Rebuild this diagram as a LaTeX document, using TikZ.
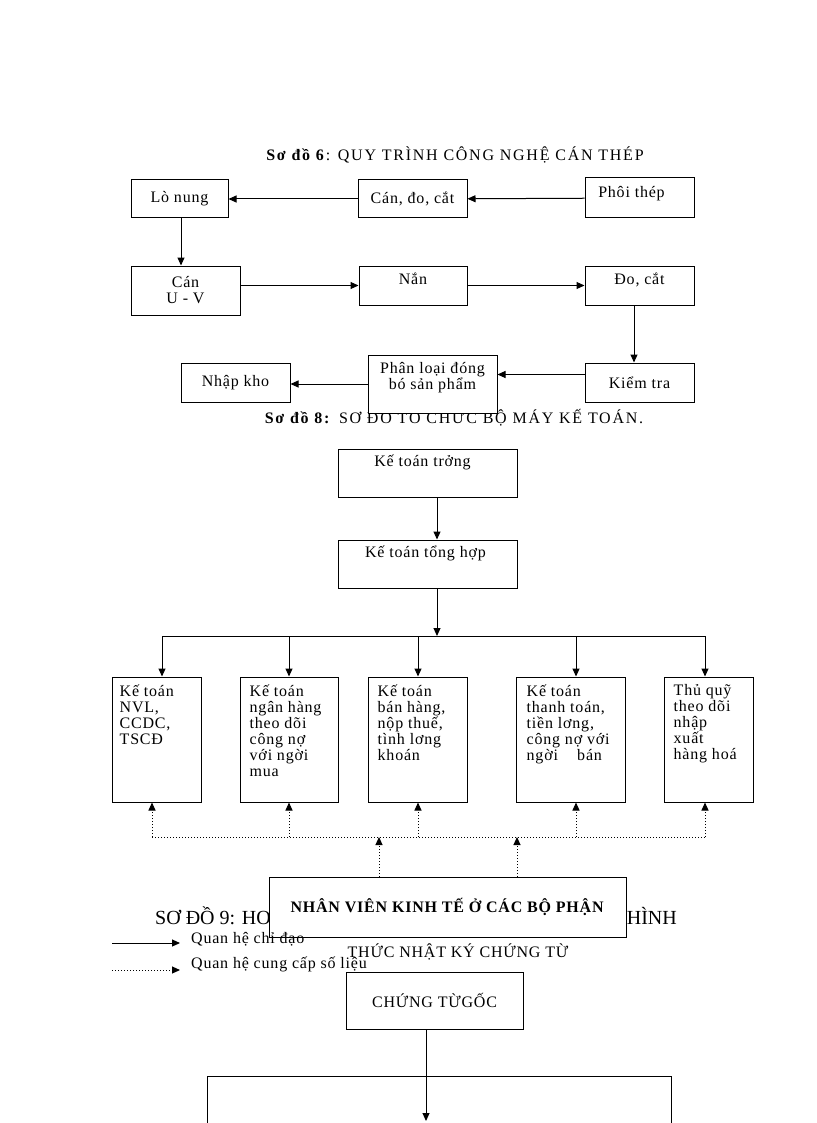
\documentclass[tikz,border=0pt]{standalone}
\usepackage{fontspec}
\setmainfont[LetterSpace=5]{Liberation Serif}
\newfontfamily\plainserif{Liberation Serif}
\newfontfamily\wideserif[LetterSpace=11]{Liberation Serif}
\usetikzlibrary{arrows.meta}
\newcommand\boxfont{\fontsize{16}{16}\selectfont}
\newcommand\titlefont{\wideserif\fontsize{16}{17}\selectfont}
\newcommand\bigtitlefont{\plainserif\fontsize{20}{22}\selectfont}
\tikzset{
  box/.style={draw, line width=1pt, inner sep=2pt, fill=white, align=center},
  arr/.style={line width=1pt, -{Triangle[length=8pt,width=7pt]}},
  dotarr/.style={arr, dotted},
  intext/.style={anchor=north west, align=left, inner sep=0pt, font=\boxfont},
  toptext/.style={anchor=north, align=center, inner sep=0pt, font=\boxfont},
}
\begin{document}
\begin{tikzpicture}[x=1pt, y=-1pt, font=\boxfont]
\useasboundingbox (0,0) rectangle (816,1123);

% so do 6
\node[font=\titlefont] (title6) at (455,155) {\textbf{Sơ đồ 6}: QUY TRÌNH CÔNG NGHỆ CÁN THÉP};
\node[box, minimum width=97pt, minimum height=38pt] (lonung) at (179.5,199) {Lò nung};
\node[box, minimum width=109pt, minimum height=38pt] (cando) at (412.5,199) {Cán, đo, cắt};
\node[box, minimum width=109pt, minimum height=40pt,
  label={[toptext, yshift=-9pt, xshift=-8pt]north:Phôi thép}] (phoi) at (639.5,198) {};
\node[box, minimum width=109pt, minimum height=49pt] (canuv) at (185.5,290.5) {Cán\\U - V};
\node[box, minimum width=108pt, minimum height=39pt,
  label={[toptext, yshift=-7pt]north:Nắn}] (nan) at (413,285.5) {};
\node[box, minimum width=109pt, minimum height=39pt,
  label={[toptext, yshift=-7pt]north:Đo, cắt}] (docat) at (639.5,285.5) {};
\node[box, minimum width=109pt, minimum height=39pt] (kiemtra) at (639.5,382.5) {Kiểm tra};
\node[font=\titlefont] (title8) at (454,418) {\textbf{Sơ đồ 8:} SƠ ĐỒ TỔ CHỨC BỘ MÁY KẾ TOÁN.};
\node[box, minimum width=129pt, minimum height=58pt,
  label={[toptext, yshift=-8pt]north:Phân loại đóng\\bó sản phẩm}] (phanloai) at (432.5,384) {};
\node[box, minimum width=109pt, minimum height=39pt] (nhapkho) at (235.5,382.5) {Nhập kho};

\draw[arr] (phoi) -- (cando);
\draw[arr] (cando) -- (lonung);
\draw[arr] ([xshift=-4.5pt]lonung.south -| canuv.north) -- ([xshift=-4.5pt]canuv.north);
\draw[arr] (nan.west -| canuv.east) -- (nan.west);
\draw[arr] (nan) -- (docat);
\draw[arr] ([xshift=-5.5pt]docat.south) -- ([xshift=-5.5pt]kiemtra.north);
\draw[arr] ([yshift=8pt]kiemtra.west) -- ([yshift=8pt]kiemtra.west -| phanloai.east);
\draw[arr] (phanloai.west) -- (phanloai.west -| nhapkho.east);

% so do 8
\node[box, minimum width=179pt, minimum height=48pt,
  label={[toptext, yshift=-6pt, xshift=-5pt]north:Kế toán trởng}] (ktt) at (427.5,473) {};
\node[box, minimum width=179pt, minimum height=48pt,
  label={[toptext, yshift=-6pt, xshift=-2pt]north:Kế toán tổng hợp}] (kth) at (427.5,564) {};
\coordinate (split) at (437,636);
\coordinate (dbus) at (437,837);

\node[box, minimum width=89pt, minimum height=125pt,
  label={[intext, xshift=8pt, yshift=-8pt]north west:Kế toán\\NVL,\\CCDC,\\TSCĐ}] (nvl) at (156.5,739.5) {};
\node[box, minimum width=98pt, minimum height=125pt,
  label={[intext, xshift=10pt, yshift=-8pt]north west:Kế toán\\ngân hàng\\theo dõi\\công nợ\\với ngời\\mua}] (nganhang) at (289,739.5) {};
\node[box, minimum width=99pt, minimum height=125pt,
  label={[intext, xshift=10pt, yshift=-8pt]north west:Kế toán\\bán hàng,\\nộp thuế,\\tình lơng\\khoán}] (banhang) at (417.5,739.5) {};
\node[box, minimum width=109pt, minimum height=125pt,
  label={[intext, xshift=11pt, yshift=-8pt]north west:Kế toán\\thanh toán,\\tiền lơng,\\công nợ với\\ngời~~~~bán}] (thanhtoan) at (570.5,739.5) {};
\node[box, minimum width=89pt, minimum height=125pt,
  label={[intext, xshift=10pt, yshift=-8pt]north west:Thủ quỹ\\theo dõi\\nhập\\xuất\\hàng hoá}] (thuquy) at (708.5,739.5) {};

\draw[arr] (ktt.south -| split) -- (kth.north -| split);
\draw[arr] (kth.south -| split) -- (split);
\draw[line width=1pt] (split -| 162,0) -- (split -| 705,0);
\foreach \b/\x in {nvl/162, nganhang/289, banhang/418, thanhtoan/576, thuquy/705}
  \draw[arr] (split -| \x,0) -- (\b.north -| \x,0);

\draw[line width=1pt, dotted] (dbus -| 152,0) -- (dbus -| 705,0);
\foreach \b/\x in {nvl/152, nganhang/289, banhang/418, thanhtoan/576, thuquy/705}
  \draw[dotarr] (dbus -| \x,0) -- (\b.south -| \x,0);

% so do 9
\node[font=\bigtitlefont, anchor=west, inner sep=0pt] (title9a) at (155,916) {SƠ ĐỒ 9: HO};
\node[font=\bigtitlefont, anchor=east, inner sep=0pt] (title9b) at (677,916) {HÌNH};
\node[box, minimum width=357pt, minimum height=60pt] (nhanvien) at (447.5,907) {\textbf{NHÂN VIÊN KINH TẾ Ở CÁC BỘ PHẬN}};
\foreach \x in {379,517}
  \draw[dotarr] (nhanvien.north -| \x,0) -- (dbus -| \x,0);

\coordinate (lg1) at (112,943);
\coordinate (lg2) at (112,970);
\node[anchor=base west, inner sep=0pt] (lgt1) at (191,943) {Quan hệ chỉ đạo};
\node[anchor=base west, inner sep=0pt] (lgt2) at (191,968) {Quan hệ cung cấp số liệu};
\draw[arr] (lg1) -- ([xshift=-11pt]lgt1.west |- lg1);
\draw[dotarr] (lg2) -- ([xshift=-11pt]lgt2.west |- lg2);

\node (title9c) at (458,952) {THỨC NHẬT KÝ CHỨNG TỪ};
\node[box, minimum width=177pt, minimum height=57pt] (ctg) at (434.5,1000.5) {CHỨNG TỪGỐC};
\node[box, fill=none, anchor=north west, minimum width=464pt, minimum height=100pt] (nkbox) at (207,1076) {};
\coordinate (ctgend) at (426,1121);
\draw[arr] (ctg.south -| ctgend) -- (ctgend);
\end{tikzpicture}
\end{document}
